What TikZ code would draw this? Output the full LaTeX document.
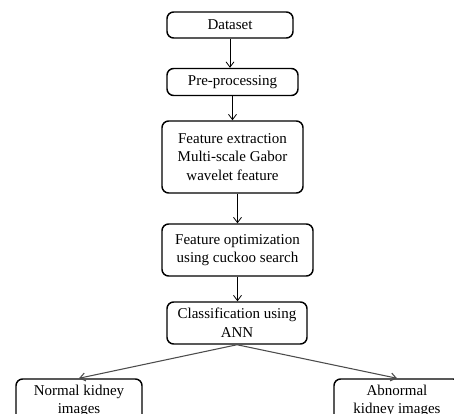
\documentclass[tikz,border=0pt]{standalone}
\usepackage{fontspec}
\setmainfont{Liberation Serif}
\usetikzlibrary{arrows.meta}
\begin{document}
\begin{tikzpicture}[x=0.75pt,y=-0.75pt,
  box/.style={draw=black,line width=1.1pt,rounded corners=5pt,align=center,inner sep=0pt,
    font=\fontsize{11.25pt}{14pt}\selectfont},
  conn/.style={draw=black,line width=0.6pt,-{Straight Barb[length=4pt,width=6pt]}},
  gconn/.style={draw=black!70,line width=0.8pt,-{Straight Barb[length=4pt,width=6pt]}}]
\useasboundingbox (0,0) rectangle (454,414);
\clip (0,0) rectangle (454,414);
\node[box,minimum width=94.5pt,minimum height=19.5pt] (data) at (230,25) {Dataset};
\node[box,minimum width=98.25pt,minimum height=20.25pt] (pre) at (232.5,82) {Pre-processing};
\node[box,minimum width=105.75pt,minimum height=54pt] (fe) at (232.5,157)
  {Feature extraction\\Multi-scale Gabor\\wavelet feature};
\node[box,minimum width=113.25pt,minimum height=39pt] (fo) at (237.5,250)
  {Feature optimization\\using cuckoo search};
\node[box,minimum width=105pt,minimum height=31.5pt] (cls) at (237,323)
  {Classification using\\ANN};
\node[box,minimum width=94.5pt,minimum height=33pt] (nor) at (79,401)
  {Normal kidney\\images};
\node[box,minimum width=94.5pt,minimum height=33pt] (abn) at (397,401)
  {Abnormal\\kidney images};
\draw[conn] (data.south) -- (data.south |- pre.north);
\draw[conn] (pre.south) -- (pre.south |- fe.north);
\draw[conn] (fo.north |- fe.south) -- (fo.north);
\draw[conn] (fo.south) -- (fo.south |- cls.north);
\draw[gconn] (cls.south) -- (nor.north);
\draw[gconn] (cls.south) -- (abn.north);
\end{tikzpicture}
\end{document}
